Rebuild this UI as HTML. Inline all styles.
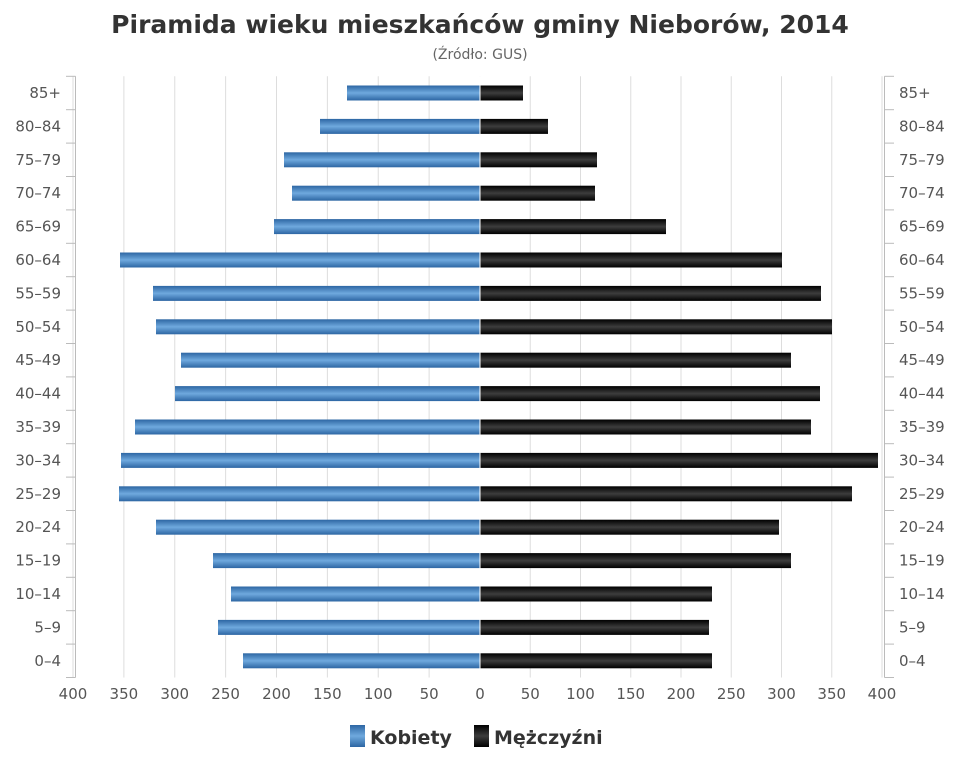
<!DOCTYPE html>
<html><head><meta charset="utf-8"><style>body{margin:0;background:#fff}svg{display:block}</style></head><body>
<svg width="960" height="768" xmlns="http://www.w3.org/2000/svg" font-family="'Liberation Sans','DejaVu Sans',sans-serif">
<defs>
<linearGradient id="b" x1="0" y1="0" x2="0" y2="1"><stop offset="0" stop-color="#2d66a3"/><stop offset="0.5" stop-color="#6fa9de"/><stop offset="1" stop-color="#2d66a3"/></linearGradient>
<linearGradient id="k" x1="0" y1="0" x2="0" y2="1"><stop offset="0" stop-color="#000"/><stop offset="0.5" stop-color="#3d3d3d"/><stop offset="1" stop-color="#000"/></linearGradient>
</defs>
<text x="480" y="33" text-anchor="middle" font-size="25" font-weight="bold" fill="#333" font-family="'DejaVu Sans',sans-serif">Piramida wieku mieszkańców gminy Nieborów, 2014</text>
<text x="480" y="59" text-anchor="middle" font-size="14" fill="#666" font-family="'DejaVu Sans',sans-serif">(Źródło: GUS)</text>
<g id="grid" stroke="#ddd" stroke-width="1"></g>
<g id="bars"></g>
<g id="labels" font-size="15" fill="#555" font-family="'DejaVu Sans',sans-serif"></g>
<g font-size="19" font-weight="bold" fill="#333" font-family="'DejaVu Sans',sans-serif">
<rect x="350" y="725" width="15" height="22" fill="url(#b)"/><text x="370" y="744">Kobiety</text>
<rect x="474" y="725" width="15" height="22" fill="url(#k)"/><text x="494" y="744">Mężczyźni</text>
</g>
</svg>
<script>
(function(){
var ns="http://www.w3.org/2000/svg";
function el(p,t,a,txt){var e=document.createElementNS(ns,t);for(var k in a)e.setAttribute(k,a[k]);if(txt)e.textContent=txt;document.getElementById(p).appendChild(e);}
var labs=["85+","80–84","75–79","70–74","65–69","60–64","55–59","50–54","45–49","40–44","35–39","30–34","25–29","20–24","15–19","10–14","5–9","0–4"];
var L=[347,320,284,292,274,120,153,156,181,175,135,121,119,156,213,231,218,243];
var R=[523,548,597,595,666,782,821,832,791,820,811,878,852,779,791,712,709,712];
var y0=76.3,step=33.4,y1=y0+18*step;
for(var v=0;v<=400;v+=50){
 var xl=480-1.0175*v,xr=480+1.005*v;
 el("grid","line",{x1:xl,x2:xl,y1:y0,y2:y1});
 if(v>0)el("grid","line",{x1:xr,x2:xr,y1:y0,y2:y1});
 el("labels","text",{x:xl,y:699,"text-anchor":"middle"},String(v));
 if(v>0)el("labels","text",{x:xr,y:699,"text-anchor":"middle"},String(v));
}
el("grid","line",{x1:75.5,x2:75.5,y1:y0,y2:y1,stroke:"#bbb"});
el("grid","line",{x1:884.5,x2:884.5,y1:y0,y2:y1,stroke:"#bbb"});
for(var i=0;i<=18;i++){var y=y0+i*step;el("grid","line",{x1:66,x2:75.5,y1:y,y2:y,stroke:"#bbb"});el("grid","line",{x1:884.5,x2:894,y1:y,y2:y,stroke:"#bbb"});}
for(var j=0;j<18;j++){
 var c=93+j*step;
 el("bars","rect",{x:L[j],y:c-7.5,width:480-L[j],height:15,fill:"url(#b)"});
 el("bars","rect",{x:480,y:c-7.5,width:R[j]-480,height:15,fill:"url(#k)"});
 el("labels","text",{x:61,y:c+5,"text-anchor":"end"},labs[j]);
 el("labels","text",{x:899,y:c+5},labs[j]);
}
el("bars","line",{x1:480,x2:480,y1:y0,y2:y1,stroke:"#fff","stroke-width":1});
})();
</script>
</body></html>
